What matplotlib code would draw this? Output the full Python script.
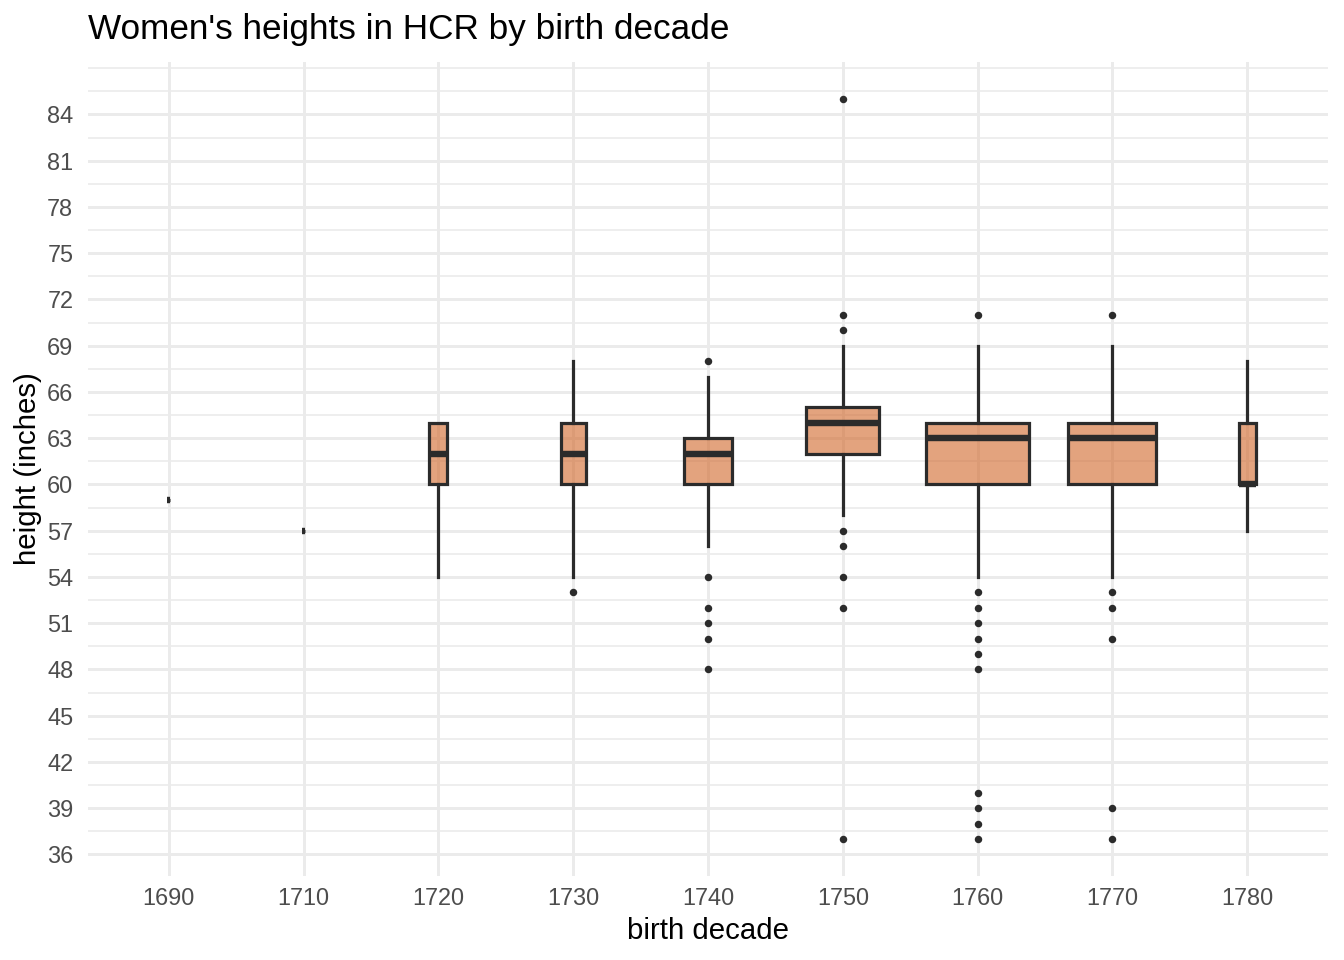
import numpy as np
import matplotlib
matplotlib.use("Agg")
import matplotlib.pyplot as plt

plt.rcParams['font.family'] = ['Liberation Sans', 'DejaVu Sans']

# ---- data ----
decades = ['1690', '1710', '1720', '1730', '1740', '1750', '1760', '1770', '1780']
counts = [1, 1, 36, 70, 255, 590, 1180, 860, 32]
q1 = [59, 57, 60, 60, 60, 62, 60, 60, 60]
med = [59, 57, 62, 62, 62, 64, 63, 63, 60]
q3 = [59, 57, 64, 64, 63, 65, 64, 64, 64]
whislo = [59, 57, 54, 54, 56, 58, 54, 54, 57]
whishi = [59, 57, 64, 68, 67, 69, 69, 69, 68]
outliers = [
    [],
    [],
    [],
    [53],
    [68, 54, 52, 51, 50, 48],
    [85, 71, 70, 57, 56, 54, 52, 37],
    [71, 53, 52, 51, 50, 49, 48, 40, 39, 38, 37],
    [71, 53, 52, 50, 39, 37],
    [],
]
y_major = list(range(36, 85, 3))

# ---- figure ----
fig = plt.figure(figsize=(7, 5), dpi=192)
ax = fig.add_axes([88/1344, 1 - 876/960, (1328-88)/1344, (876-62)/960])

stats = []
for i in range(len(decades)):
    stats.append(dict(label=decades[i], q1=q1[i], med=med[i], q3=q3[i],
                      whislo=whislo[i], whishi=whishi[i], fliers=outliers[i]))

nmax = max(counts)
widths = [0.765 * np.sqrt(n / nmax) for n in counts]
positions = np.arange(1, len(decades) + 1)

edge = '#2B2B2B'
bp = ax.bxp(stats, positions=positions, widths=widths, patch_artist=True,
            showcaps=False,
            boxprops=dict(facecolor=(0.82, 0.40, 0.16, 0.6), edgecolor=edge, linewidth=1.2),
            whiskerprops=dict(color=edge, linewidth=1.2),
            medianprops=dict(color=edge, linewidth=2.4, solid_capstyle='butt'),
            flierprops=dict(marker='o', markersize=2.8, markerfacecolor=edge,
                            markeredgecolor=edge, markeredgewidth=0, linestyle='none'))
for b in bp['boxes']:
    b.set_zorder(3)
for m in bp['medians']:
    m.set_zorder(4)

ax.set_xlim(0.4, len(decades) + 0.6)
ax.set_ylim(34.6, 87.4)

ax.set_xticks(positions)
ax.set_xticklabels(decades)
ax.set_yticks(y_major)
minor = [v for v in np.arange(34.5, 88.0, 1.5) if v not in y_major and 34.6 <= v <= 87.4]
ax.set_yticks(minor, minor=True)

ax.set_axisbelow(True)
ax.grid(True, which='major', axis='both', color='#EBEBEB', linewidth=1.1)
ax.grid(True, which='minor', axis='y', color='#EBEBEB', linewidth=0.6)
for s in ax.spines.values():
    s.set_visible(False)
ax.tick_params(axis='y', which='both', length=0, pad=5.5,
               labelsize=8.8, labelcolor='#4D4D4D')
ax.tick_params(axis='x', which='both', length=0, pad=4.3,
               labelsize=8.8, labelcolor='#4D4D4D')

ax.set_xlabel('birth decade', fontsize=11, color='black', labelpad=2.5)
ax.set_ylabel('height (inches)', fontsize=11, color='black', labelpad=1.8)

fig.text(88/1344, 1 - 39/960, "Women's heights in HCR by birth decade",
         fontsize=13.2, color='black', ha='left', va='baseline')

fig.savefig('out.png', dpi=192, facecolor='white')
